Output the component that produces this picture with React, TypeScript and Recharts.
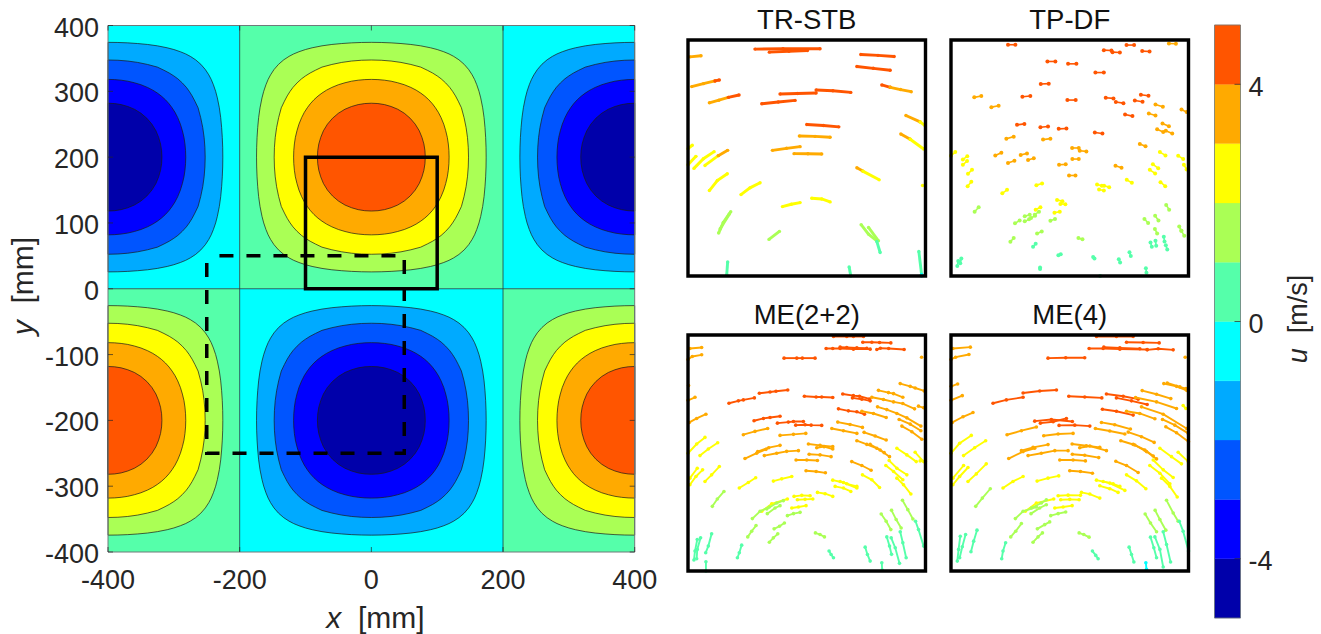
import { Scatter, ScatterChart, XAxis, YAxis } from 'recharts';

const FONT = '"Liberation Sans", Arial, sans-serif';
const TEXT = '#262626';

// jet-like bands from -5 to 5 m/s
const bandColors = ['#0000aa', '#0000ff', '#0055ff', '#00aaff', '#00ffff', '#55ffaa', '#aaff55', '#ffff00', '#ffaa00', '#ff5500'];
const bandEdges = [-5, -4, -3, -2, -1, 0, 1, 2, 3, 4, 5];
const barTicks = [-4, 0, 4];
const mainTicks = [-400, -300, -200, -100, 0, 100, 200, 300, 400];
const mainXTicks = [-400, -200, 0, 200, 400];

// contour offsets from a cell centre, one quadrant, mm
const contour1 = [[0, 174.4], [15, 174.2], [30, 173.6], [45, 172.6], [60, 171.2], [75, 169.1], [90, 166.1], [100, 163.5], [110, 160.1], [118, 156.8], [125, 153.1], [133, 147.9], [141, 141], [147.9, 133], [153.1, 125], [156.8, 118], [160.1, 110], [163.5, 100], [166.1, 90], [169.1, 75], [171.2, 60], [172.6, 45], [173.6, 30], [174.2, 15], [174.4, 0]];
const contour2 = [[0, 147.6], [15, 147.2], [30, 146], [45, 143.9], [60, 140.8], [75, 136.8], [85, 132], [93, 127.8], [100, 123.4], [106, 119], [112.8, 112.8], [119, 106], [123.4, 100], [127.8, 93], [132, 85], [136.8, 75], [140.8, 60], [143.9, 45], [146, 30], [147.2, 15], [147.6, 0]];
const contour3 = [[0, 118.1], [10, 117.8], [20, 116.9], [30, 115.4], [40, 113], [50, 110], [60, 105.9], [68, 101.8], [75, 97.3], [81, 92.8], [87.2, 87.2], [92.8, 81], [97.3, 75], [101.8, 68], [105.9, 60], [110, 50], [113, 40], [115.4, 30], [116.9, 20], [117.8, 10], [118.1, 0]];
const contour4 = [[0, 81.9], [10, 81.4], [20, 79.8], [30, 76.9], [40, 72.8], [50, 66.7], [59, 59], [66.7, 50], [72.8, 40], [76.9, 30], [79.8, 20], [81.4, 10], [81.9, 0]];
const contours = [contour1, contour2, contour3, contour4];

// cx, cy, sign, part of the cell that is inside the window
const cells: [number, number, number, string][] = [
  [0, 200, 1, 'full'],
  [0, -200, -1, 'full'],
  [-400, 200, -1, 'right'],
  [400, 200, -1, 'left'],
  [-400, -200, 1, 'right'],
  [400, -200, 1, 'left'],
];

// x0, x1, y0, y1, band
const quadrants = [
  [-400, -200, 0, 400, 4],
  [-200, 200, 0, 400, 5],
  [200, 400, 0, 400, 4],
  [-400, -200, -400, 0, 5],
  [-200, 200, -400, 0, 4],
  [200, 400, -400, 0, 5],
];
const zeroLines = [
  [[-200, -400], [-200, 400]],
  [[200, -400], [200, 400]],
  [[-400, 0], [400, 0]],
];
const solidBox = [[-100, 0], [100, 0], [100, 200], [-100, 200], [-100, 0]];
const dashedBox = [[-250, 50], [50, 50], [50, -250], [-250, -250], [-250, 50]];

const R = 9, O = 8, Y = 7, G = 6, T = 5, C = 4;

// [band, x, y, x, y, ...] in mm
const trStbTracks = [
  [R, -43.6, 192.3, -20, 192.6, 11.2, 192.6],
  [R, -31.5, 189.7, -15, 190.5, 0.6, 191.1],
  [R, 45.5, 187.7, 60, 187, 73.6, 186],
  [R, 42.2, 177.5, 56, 176, 70.3, 174.4],
  [R, -22.5, 154.2, -8, 154.7, 7.9, 155.1],
  [R, 7.9, 157.6, 22, 157, 37.1, 155.6],
  [R, -37.9, 146, -24, 147.5, -9.8, 148.8],
  [R, 0, 128.4, 14, 127.5, 27, 126.4],
  [O, -96.9, 160.5, -87, 163, -77.3, 165.3],
  [R, -77.3, 165.3, -73.6, 166.1],
  [O, -82, 146.8, -74, 149, -66, 151.4],
  [R, -66, 151.4, -57, 153.4],
  [R, 63.2, 161.9, 70.3, 159.9],
  [O, 70.3, 159.9, 79, 158, 88, 156.2],
  [O, -98.4, 185.7, -89, 186.6],
  [O, -6.2, 118.7, 7, 118.3, 19.7, 117.6],
  [O, -28.9, 106.5, -17, 108.2, -5.6, 109.6],
  [O, -10.7, 103.7, 1, 103.6, 12.6, 103.4],
  [O, 83.5, 136, 95.5, 130.6],
  [Y, 95.5, 130.6, 99.8, 127.2],
  [O, 79.2, 120.4, 87.1, 115.9],
  [Y, 87.1, 115.9, 98.4, 107.6],
  [O, 42.2, 91.7, 47.2, 88.9],
  [Y, 47.2, 88.9, 61, 81.5],
  [Y, -85.7, 93.7, -74.5, 102],
  [O, -74.5, 102, -66.6, 106.5],
  [Y, -100, 107.9, -96.4, 110.8],
  [Y, -100, 94.3, -93.3, 101.4],
  [Y, -95, 91.2, -87, 99.4, -78, 105.4],
  [Y, -82, 72.4, -75.3, 80.9, -66.9, 86.6],
  [Y, -55.4, 69, -47.8, 74.7, -39.3, 79],
  [Y, -20.5, 58.8, -13, 60.8, -5.6, 62.2],
  [Y, 4.2, 65.9, 12.6, 65.3, 19.7, 62.8],
  [Y, 97.5, 76.7],
  [G, -74.2, 36.4, -70.3, 45.4, -64, 54.5],
  [G, -73, 39.8, -65.2, 52.5],
  [G, -31.8, 31, -23, 37.8],
  [G, 45.8, 43.5, 52, 35.5, 59, 29.8],
  [G, 52, 41.2, 60.4, 29.8],
  [T, 59, 29.3, 61.8, 19.9],
  [T, -66.6, 11.9, -67.4, 0.9],
  [T, 35.7, 7.7, 37.1, 0],
  [T, 94.4, 20.7, 96.7, 1.4],
  [C, 96.7, 1.4, 96.7, 0],
];

const tpDfTracks = [
  [R, -52, 196, -45.8, 196], [R, 28.7, 191.4, 35.1, 191.1], [R, 36, 189.7, 42.2, 189.4], [R, 47.8, 195.7, 54.2, 195.7],
  [R, 61, 190.6, 67.2, 190.3], [R, -18.8, 181.8, -12.1, 181.8], [R, -1.4, 179.8, 5.6, 179.8], [R, 21.6, 172.4, 28.7, 172.4],
  [R, -24.4, 162.7, -17.7, 163], [R, -39.9, 151.9, -33.2, 152.5], [R, -2, 149.1, 5, 149.1], [R, 30.3, 151.1, 36.8, 150.5],
  [R, 38.8, 147.4, 45.2, 146.5], [R, 59.9, 153.6, 66.3, 152.8], [R, 54.8, 148.8, 61.3, 147.7], [R, 46.6, 136.9, 52.8, 135.5],
  [R, -44.4, 128.1, -38.2, 128.9], [R, -24.7, 126.1, -18.3, 126.7], [R, -9.3, 124.7, -2.8, 125], [R, 21.1, 121.6, 27.5, 120.7],
  [O, 83.5, 197, 89.4, 196.8], [O, -80.4, 151.4, -74.5, 152.5], [O, -66, 143.1, -59.9, 144.3], [O, 72.2, 145.4, 78.4, 143.4],
  [O, 94.1, 141.1, 98.4, 138.9], [O, 66.6, 137.7, 72.2, 136], [O, 78.1, 129.2, 83.5, 126.9], [O, 73.6, 124.4, 78.7, 122.1],
  [O, 80.9, 123, 86.3, 120.7], [O, -53.4, 116.4, -47.2, 118.1], [O, -22.5, 115.6, -16.3, 116.4], [O, 2, 108.5, 7.6, 108.5],
  [O, 8.4, 106.2, 14, 105.6], [O, 59, 111.9, 63.8, 109.9], [O, -62.7, 102.2, -57.6, 104.5], [O, -41.3, 102.5, -36, 103.9],
  [O, -35.1, 98.3, -30.3, 99.7], [O, -52, 95.7, -46.6, 97.7], [O, 2.2, 99.1, 7.6, 99.1], [O, -9, 94.3, -3.4, 94.6],
  [O, 38.5, 93.4, 43.6, 91.7], [O, -0.6, 85.2, 4.8, 85.2],
  [Y, -100, 102, -96.4, 105], [Y, -90, 98.8, -86.3, 101.4], [Y, -90, 94.3, -86.5, 97.4], [Y, -85.7, 86.6, -82.3, 90],
  [Y, -86, 76.1, -82.9, 79.8], [Y, -56.8, 70.1, -52.8, 73], [Y, -28.1, 77, -23.3, 78.4], [Y, 23, 77.5, 27, 76.4],
  [Y, 28.9, 76.4, 33.2, 75.3], [Y, 24.7, 73.3, 28.7, 72.4], [Y, 48, 81.5, 52.3, 79], [Y, 70, 94.6, 74.5, 91.4],
  [Y, 67.4, 90, 71.9, 86.9], [Y, 75.9, 105, 80.6, 102.2], [Y, 91.3, 102, 95.5, 99.1], [Y, 96.1, 94.3, 98.4, 90.3],
  [Y, 76.4, 79.5, 80.4, 76.1], [Y, -10.7, 64.5, -6.2, 63.3], [Y, -7.9, 61.1, -3.7, 60.8], [Y, -12.9, 53.7, -8.4, 54.5],
  [Y, -28.7, 56.2, -24.7, 58.2],
  [G, -80.1, 54.5, -76.7, 58.2], [G, -46.1, 44.6, -42.2, 47.1], [G, -37.9, 46.3, -34.3, 48], [G, -37.9, 50.6, -33.7, 52],
  [G, -32.6, 49.1, -29.2, 51.1], [G, -29.5, 52, -25.9, 54.5], [G, -16.3, 46.9, -12.4, 48.3], [G, -27.5, 36.1, -23.6, 37.8],
  [G, -50, 29, -47.2, 32.1], [G, 7.3, 32.1, 10.7, 31.2], [G, 62.9, 48.3, 66, 44.9], [G, 71.9, 51.1, 74.7, 47.1],
  [G, 71.7, 39.8, 73.6, 36.1], [G, 81.2, 60.2, 83.7, 56.2], [G, 92.2, 42, 93.9, 38.3], [G, 94.1, 38.3, 96.4, 34.1],
  [T, -30.9, 24.7, -28.7, 27.3], [T, -9.6, 17.6, -7.6, 18.5], [T, 19.7, 16.2, 20.8, 14.8], [T, 41.3, 14.2, 42.4, 11.4],
  [T, 50.3, 20.2, 51.4, 17], [T, 68, 28.4, 69.1, 24.7], [T, 72.2, 29.8, 72.8, 25.6], [T, 79.2, 33.2, 79.8, 29.3],
  [T, 80.9, 26.1, 82.1, 22.4], [T, 64.1, 6.5, 64.6, 2.8], [T, -25, 7.1, -25, 6], [T, 25.6, 0],
  [T, -94.7, 8.5, -93.9, 12.8], [T, -92.2, 10.8, -91.3, 14.8],
];

const me22Tracks = [
  [R, 22.5, 198.7, 33.7, 198.7, 39.3, 198.7, 47.8, 198.7],
  [R, 16.3, 188.6, 21.9, 188.6, 28.1, 188.6, 39.3, 188, 53.4, 188],
  [R, 28.1, 189.7, 33.7, 189.4, 42.2, 189.1, 50.6, 188.8],
  [R, 47.2, 193.9, 54.8, 193.9, 61.3, 193.6, 70.8, 193.3],
  [R, 59, 187.7, 62, 188.8, 69, 188.6, 82, 187.7],
  [R, -19.1, 180.4, -8.4, 180.4, -3.7, 180.4, 7, 180.4],
  [R, -65.5, 142.2, -57.6, 144.2, -53.4, 145, -44.1, 146.7],
  [R, -39.9, 150.6, -30.9, 151.7, -25.9, 152.3, -16, 153.4],
  [R, -2, 148.1, 7.9, 147.5, 12.6, 147.5, 21.9, 147],
  [R, 30.3, 150, 39.3, 148.6, 44.4, 148.1, 52.8, 145.8],
  [R, 38.5, 146.7, 46.4, 145.6, 53.4, 144.2],
  [R, 26.7, 137.4, 35.1, 135.7, 42.2, 134.9, 48.6, 132.9],
  [R, -44.4, 127.3, -36.5, 129.3, -30.9, 130.1, -22.5, 131.2],
  [R, -24.7, 125.3, -15.5, 126.2, -11.2, 126.7, -2.8, 126.7],
  [R, -9.3, 123.6, -1.4, 123.9, 3.7, 123.6, 12.6, 123.4],
  [O, -98.4, 188.6, -88.5, 189.4],
  [O, -100, 179.3, -96.4, 181.8, -88.5, 183.2],
  [O, 96.7, 181.2],
  [O, -99.5, 157.1],
  [O, -100, 144.7, -94.1, 147.2],
  [O, -98.9, 125.9, -92.7, 129.3, -84.9, 132.9],
  [O, 78.7, 158.8, 87.1, 156.5, 91.3, 155.1, 98.9, 152.6],
  [O, 60.4, 153.1, 68.8, 151.2, 73.1, 150.3, 80.9, 147.2],
  [O, 54.8, 147.2, 64.6, 145.3, 73.1, 143.3, 80.9, 141.9, 90.8, 137.4],
  [O, 59.6, 139.1, 67.4, 136.8, 75.9, 133.5, 84.3, 129.8, 96.1, 122.8],
  [O, 94.1, 139.7, 98.4, 138.3],
  [O, 46.4, 135.4, 56.2, 133.5, 66.9, 130.1],
  [O, 77.8, 128.4, 87.1, 124.5, 96.1, 118.9],
  [O, 80.1, 122.8, 88.5, 118, 96.9, 111.6],
  [O, 26.1, 126.2, 36.5, 124.2, 46.9, 121.7],
  [O, 21.1, 120.8, 30.9, 118.9, 42.2, 116.6],
  [O, 48.3, 117.5, 57.6, 114.4, 66.9, 111],
  [O, 42.2, 110.4, 50.6, 107.3, 59, 104, 65.2, 100.3],
  [O, 53.4, 107.3, 61.8, 102.6, 69.7, 96.9],
  [O, -53.4, 115.5, -43.6, 118.3, -32.9, 120.8],
  [O, -22.5, 114.9, -11.2, 115.8, -0.8, 116.6],
  [O, 1.4, 107.6, 11.2, 106.5, 21.9, 105.4],
  [O, 8.4, 104.5, 14.6, 105.4, 21.9, 103.4],
  [O, -41.3, 101.2, -32, 104.5, -22.5, 106.5],
  [O, -52, 95.3, -42.2, 99.8, -34.3, 103.1],
  [O, -35.7, 97.8, -25.3, 99.8, -16.9, 101.4, -7, 102],
  [O, 2, 98.9, 11.2, 98.4, 20.5, 96.9],
  [O, -9, 94.1, 0, 94.1, 9, 93.6],
  [O, -0.6, 84.9, 7.9, 84.3, 15.7, 83.2],
  [O, 37.9, 92.7, 46.4, 89.4, 54.2, 85.4],
  [Y, -100, 99.8, -92.7, 107.6, -85.7, 113.2],
  [Y, -89.9, 97.8, -82.9, 103.4, -75, 108.7],
  [Y, -98.4, 78.7, -92.2, 87.1],
  [Y, -98.4, 73.1, -93.3, 80.1, -87.7, 85.7],
  [Y, -85.7, 75.9, -80.1, 81.5, -73.6, 88.5],
  [Y, -56.8, 70.3, -49.2, 75, -43, 79],
  [Y, -28.1, 76.2, -21.1, 78.1, -12.6, 80.1],
  [Y, 21.9, 77, 30.9, 75, 42.2, 70.3],
  [Y, 28.1, 75.9, 33.7, 73.9, 42.2, 71.7],
  [Y, 23.9, 71.7, 30.9, 70.3, 37.1, 67.4],
  [Y, 46.9, 81.5, 54.8, 77.3, 61.3, 70.8],
  [Y, 69.4, 93.6, 75.9, 87.1, 84.3, 81.5],
  [Y, 66.6, 89.4, 73.1, 84.3, 80.9, 77.3],
  [Y, 75.9, 78.7, 81.5, 73.1, 87.7, 65.2],
  [Y, 75.9, 104, 84.3, 98.4, 92.2, 92.7],
  [Y, 91.3, 100.6, 98.4, 92.7],
  [Y, 95.5, 93.3, 99.8, 93],
  [Y, -10.7, 63.2, -4.2, 64.1, 2.8, 63.8],
  [Y, -7.9, 60.4, -1.4, 60.7, 5.1, 61],
  [Y, 9, 66.6, 15.5, 65.5, 21.9, 63.2],
  [Y, -12.6, 53.4, -7, 54.2, -0.6, 55.4],
  [Y, -37.9, 50.6, -29.5, 57, -16.3, 61],
  [G, -33.7, 52.5, -25.3, 57.6, -19.7, 59.6],
  [G, -79.5, 54.8, -75.3, 61, -69.7, 67.4],
  [G, -45.8, 44.4, -39.3, 50.6, -31.5, 54.2],
  [G, -33.2, 48.6, -26.7, 53.4, -22.5, 55.4],
  [G, -16.3, 46.9, -11.2, 48.6, -5.6, 49.7],
  [G, -27.5, 35.7, -23, 37.9, -18.8, 40.7],
  [G, -49.7, 28.9, -46.4, 33.7, -42.7, 38.5],
  [G, -31.5, 24.4, -28.1, 28.1, -24.4, 31.5],
  [G, 7.3, 32.3, 11.2, 30.9, 14.9, 28.9],
  [G, 62.7, 48.3, 66.9, 42.2, 70.8, 35.1],
  [G, 71.4, 51.4, 75.3, 43.6, 79.5, 36.5],
  [G, 80.6, 59.9, 85.1, 52, 89.4, 44.1],
  [T, 91.6, 42.2, 94.1, 35.1, 98.4, 21.1],
  [T, 78.7, 33.2, 80.9, 23.9, 83.7, 11.2],
  [T, 71.1, 28.1, 74.5, 19.7, 78.1, 6.5],
  [T, 67.4, 28.9, 69.7, 21.1, 71.4, 14.1],
  [T, -80.1, 31.5, -82.9, 21.1, -85.1, 15.5],
  [T, -89.4, 28.1, -92.2, 18.3, -92.7, 10.4],
  [T, -92.2, 26.7, -94.1, 16.9, -95, 9.3],
  [T, -54.8, 21.9, -56.8, 15.5, -58.4, 11.2],
  [T, -84.9, 7.9, -84.9, 0],
  [T, 18.8, 16.9, 20.5, 14, 22.5, 11.2],
  [T, 49.2, 20.2, 51.1, 14, 53.4, 8.4],
  [T, 63.2, 7, 63.5, 0.8],
];

const me4Tracks = [
  [R, 22.5, 198.7, 39.3, 198.7, 53.4, 198.7],
  [R, 16.3, 188.6, 28.1, 188.6, 42.2, 188, 65.2, 187.7],
  [R, 28.7, 189.7, 42.2, 189.1, 59, 188.3],
  [R, 47.8, 193.9, 61.8, 193.6, 75.3, 193.3],
  [R, 65.2, 187.4, 74.5, 188.3, 87.1, 187.4],
  [R, -18.3, 180.4, -3.4, 180.7, 12.6, 180.7],
  [R, -64.6, 142.2, -53.4, 145, -39.3, 147.2],
  [R, -39.3, 150.9, -25.3, 152.6, -11.2, 153.4],
  [R, -0.8, 148.1, 12.6, 147.5, 27, 146.7],
  [R, 30.9, 150, 45, 148.1, 57.6, 145.6],
  [R, 39.3, 146.7, 52, 144.2, 65.2, 141.1],
  [R, 27.5, 137.1, 39.3, 135.4, 53.4, 132.1],
  [R, -29.5, 127, -15.5, 128.4, 2.2, 126.7],
  [R, -24.7, 125.3, -14, 126.5, -2.8, 129.3],
  [R, -9, 123.4, 4.2, 123.6, 16.9, 122.8],
  [O, -98.4, 188.6, -83.7, 189.7],
  [O, -100, 179.3, -96.1, 181.2, -84.9, 183.5],
  [O, 97.2, 181.2],
  [O, -99.8, 156.5, -94.4, 158.5],
  [O, -100, 144.7, -90.5, 148.6],
  [O, -98.9, 125.9, -89.9, 130.7, -81.5, 134.3],
  [O, 79.2, 158.8, 89.9, 156.5, 98.4, 153.1],
  [O, 82.1, 159.3, 92.7, 156, 97.8, 154.6],
  [O, 61, 152.9, 73.1, 149.8, 85.1, 146.1],
  [O, 55.4, 147, 73.1, 143.3, 89.9, 137.7],
  [O, 60.4, 139.1, 78.7, 132.9, 98.4, 120.8],
  [O, 47.8, 135.4, 59, 133.5, 71.7, 129],
  [O, 78.1, 128.4, 88.5, 123.6, 99.8, 116.6],
  [O, 80.9, 122.2, 89.9, 117.2, 100, 109.6],
  [O, 26.7, 125.9, 37.9, 123.9, 51.1, 120.3],
  [O, 21.6, 120.8, 33.7, 118.6, 46.4, 116.1],
  [O, 49.2, 117.7, 60.4, 113.8, 71.1, 109],
  [O, 43, 110.4, 54.8, 106.8, 64.6, 101.2, 73.1, 95],
  [O, 53.4, 107.3, 63.2, 102.6, 70.3, 97.5],
  [O, -52.8, 115.5, -40.7, 118.9, -28.1, 122],
  [O, -21.9, 114.6, -9.8, 116.1, 2.8, 116.6],
  [O, 2, 107.6, 14, 106.2, 25.3, 104.8],
  [O, 8.4, 104.5, 16.9, 105.9, 30.9, 102],
  [O, -40.7, 102, -30.9, 104.8, -18.3, 107.1],
  [O, -51.4, 95.3, -39.3, 101.2, -29.5, 104],
  [O, -35.1, 97.8, -23.9, 99.8, -12.6, 102, -1.4, 102],
  [O, 2.2, 98.9, 12.6, 98.1, 24.4, 96.1],
  [O, -8.4, 94.1, 2.8, 94.1, 13.2, 93.3],
  [O, 0, 84.9, 9, 84.3, 19.1, 82.9],
  [O, 38.8, 93, 47.8, 89.4, 57.6, 83.5],
  [Y, -100, 99.8, -92.7, 108.2, -82.9, 114.9],
  [Y, -89.4, 97.8, -80.1, 104.5, -70.8, 110.4],
  [Y, -98.4, 78.7, -89.4, 89.4],
  [Y, -98.4, 73.1, -92.7, 80.1, -85.7, 87.7],
  [Y, -85.7, 75.9, -78.7, 82.3, -70.3, 90.8],
  [Y, -56.2, 70.3, -47.8, 75.9, -39.3, 80.1],
  [Y, -27.5, 76.2, -18.3, 78.7, -9.3, 80.6],
  [Y, 22.5, 77, 33.7, 74.5, 46.4, 68.3],
  [Y, 25.3, 72.2, 33.7, 69.7, 40.7, 66.6],
  [Y, 28.1, 75.9, 36.5, 73.9, 42.2, 71.7],
  [Y, 47.8, 81.5, 56.2, 76.4, 64.1, 69.7],
  [Y, 70.3, 94.1, 78.7, 85.7, 87.1, 79.2],
  [Y, 67.4, 89.4, 75.9, 82.9, 84.3, 73.9],
  [Y, 77.3, 78.7, 84.3, 71.7, 90.5, 62.7],
  [Y, 75.9, 104, 85.7, 96.9, 94.1, 90.8],
  [Y, 91.3, 100.6, 99.8, 92.7],
  [Y, 95.5, 140.2, 97.8, 137.7],
  [Y, -9.8, 63.8, -1.4, 64.3, 9, 64.1],
  [Y, -7.6, 60.4, 0, 60.7, 7.9, 60.4],
  [Y, 9.8, 66.6, 16.9, 65.2, 25.3, 61.8],
  [Y, -12.6, 53.4, -5.6, 54.2, 2, 55.4],
  [Y, -37.4, 50.6, -28.1, 57.6, -13.5, 61],
  [G, -32.3, 53.4, -23.9, 57.6, -19.7, 60.4],
  [G, -79.2, 54.8, -73.6, 61.8, -66.9, 69.7],
  [G, -45.8, 44.4, -39.3, 50.6, -28.1, 54.2],
  [G, -32.6, 48.6, -25.3, 53.4, -19.7, 56.2],
  [G, -16, 46.9, -9.8, 48.6, -3.4, 50],
  [G, -27.3, 35.7, -21.1, 39.3, -16.9, 41.6],
  [G, -49.7, 28.9, -45.5, 33.7, -40.7, 40.2],
  [G, -30.9, 24.4, -26.7, 28.9, -23, 32.3],
  [G, 7.9, 32.3, 11.8, 30.9, 16.3, 28.7],
  [G, 63.5, 48.3, 68, 40.7, 73.1, 33.2],
  [G, 71.9, 51.4, 75.9, 43.6, 80.9, 34.6],
  [G, 81.5, 59.9, 87.1, 49.2, 91.3, 42.2],
  [T, 92.2, 42.2, 95.5, 33.7, 100, 16.9],
  [T, 78.7, 33.2, 81.5, 22.5, 84.9, 7.6],
  [T, 71.7, 28.9, 75.9, 18.3, 78.7, 3.4],
  [T, 68, 28.7, 70.8, 19.7, 73.1, 11.2],
  [T, -78.1, 34.6, -80.9, 25.3, -83.2, 16.3],
  [T, -87.7, 30.9, -90.5, 20.5, -92.7, 11.2],
  [T, -92.2, 29.5, -93.6, 18.3, -94.7, 8.4],
  [T, -54, 23.9, -56.2, 16.9, -57.3, 10.4],
  [T, 19.1, 16.9, 21.9, 13.2, 23.9, 10.4],
  [T, 50, 20.2, 52, 14, 54, 7.6],
  [C, 64.1, 7, 64.6, 1.4],
];

const panelBox = [[-100, 0], [100, 0], [100, 200], [-100, 200], [-100, 0]];

const toPoints = (list: number[][]) => list.map(([x, y]) => ({ x, y }));

const rectPoints = ([x0, x1, y0, y1]: number[]) => [
  { x: x0, y: y0 }, { x: x1, y: y0 }, { x: x1, y: y1 }, { x: x0, y: y1 },
];

const cellOutline = (quarter: number[][], cx: number, cy: number, part: string) => {
  const rightHalf = [...quarter, ...[...quarter].reverse().slice(1).map(([a, b]) => [a, -b])];
  const leftHalf = [...rightHalf].reverse().map(([a, b]) => [-a, b]);
  const offsets = part === 'full' ? [...rightHalf, ...leftHalf.slice(1)] : part === 'right' ? rightHalf : leftHalf;
  return offsets.map(([a, b]) => ({ x: cx + a, y: cy + b }));
};

const trackPoints = (track: number[]) => {
  const pts = [];
  for (let i = 1; i < track.length; i += 2) pts.push({ x: track[i], y: track[i + 1] });
  return pts;
};

const NoDot = () => <g />;

const MainTickY = ({ x, y, payload }: any) => (
  <g>
    <line x1={108} x2={113} y1={y} y2={y} stroke={TEXT} strokeWidth={0.7} />
    <line x1={629.7} x2={634.7} y1={y} y2={y} stroke={TEXT} strokeWidth={0.7} />
    <text x={x - 9} y={y + 11} textAnchor="end" fontSize={27} fontFamily={FONT} fill={TEXT}>{payload.value}</text>
  </g>
);

const MainTickX = ({ x, y, payload }: any) => (
  <g>
    <line x1={x} x2={x} y1={552} y2={547} stroke={TEXT} strokeWidth={0.7} />
    <line x1={x} x2={x} y1={25.5} y2={30.5} stroke={TEXT} strokeWidth={0.7} />
    <text x={x} y={y + 37} textAnchor="middle" fontSize={27} fontFamily={FONT} fill={TEXT}>{payload.value}</text>
  </g>
);

const BarTick = ({ x, y, payload }: any) => (
  <g>
    <line x1={x - 6} x2={x} y1={y} y2={y} stroke={TEXT} strokeWidth={0.7} />
    <text x={x + 8} y={y + 11.5} fontSize={27} fontFamily={FONT} fill={TEXT}>{payload.value}</text>
  </g>
);

const AxisName = ({ symbol, unit, size = 30, style }: any) => (
  <div style={{
    position: 'absolute', width: 200, height: 32, lineHeight: '32px', textAlign: 'center',
    fontFamily: FONT, fontSize: size, color: TEXT, whiteSpace: 'pre', ...style,
  }}>
    <i>{symbol}</i>{`  ${unit}`}
  </div>
);

const MainPlot = () => (
  <div style={{ position: 'absolute', left: 0, top: 0 }}>
    <ScatterChart width={680} height={634} margin={{ top: 25.5, right: 45.3, bottom: 42, left: 68 }}>
      <XAxis type="number" dataKey="x" domain={[-400, 400]} ticks={mainXTicks} interval={0} height={40} zIndex={700}
        tickSize={0} tickMargin={0} axisLine={false} tickLine={false} tick={<MainTickX />} />
      <YAxis type="number" dataKey="y" domain={[-400, 400]} ticks={mainTicks} interval={0} width={40} zIndex={700}
        tickSize={0} tickMargin={0} axisLine={false} tickLine={false} tick={<MainTickY />} />
      {quadrants.map((q, i) => (
        <Scatter key={`q${i}`} data={rectPoints(q)} isAnimationActive={false} shape={NoDot} lineJointType="linearClosed"
          line={{ fill: bandColors[q[4]], stroke: 'none' }} />
      ))}
      {zeroLines.map((l, i) => (
        <Scatter key={`z${i}`} data={toPoints(l)} isAnimationActive={false} shape={NoDot}
          line={{ stroke: '#1c3f3f', strokeWidth: 0.8 }} />
      ))}
      {cells.map(([cx, cy, sign, part]) =>
        contours.map((quarter, i) => (
          <Scatter key={`c${cx}_${cy}_${i}`} data={cellOutline(quarter, cx, cy, part)} isAnimationActive={false} shape={NoDot}
            lineJointType="linearClosed"
            line={{ fill: bandColors[sign > 0 ? 6 + i : 3 - i], stroke: '#1a1a1a', strokeWidth: 0.7 }} />
        ))
      )}
      <Scatter data={toPoints(solidBox)} isAnimationActive={false} shape={NoDot}
        line={{ stroke: '#000', strokeWidth: 3.5, fill: 'none', strokeLinecap: 'square' }} />
      <Scatter data={toPoints(dashedBox)} isAnimationActive={false} shape={NoDot}
        line={{ stroke: '#000', strokeWidth: 3.5, fill: 'none', strokeDasharray: '14 13', strokeDashoffset: 14.3 }} />
      <Scatter data={rectPoints([-400, 400, -400, 400])} isAnimationActive={false} shape={NoDot} lineJointType="linearClosed"
        line={{ stroke: '#6e7a7a', strokeWidth: 1, fill: 'none' }} />
    </ScatterChart>
  </div>
);

const TrackPanel = ({ title, tracks, left, top, lineWidth, dotR }: any) => {
  const pad = 8;
  const boxW = 237.5;
  const boxH = 236;
  return (
    <div style={{ position: 'absolute', left: left - pad, top: top - pad }}>
      <ScatterChart width={boxW + pad * 2} height={boxH + pad * 2} margin={{ top: pad, right: pad, bottom: pad, left: pad }}>
        <XAxis hide type="number" dataKey="x" domain={[-100, 100]} />
        <YAxis hide type="number" dataKey="y" domain={[0, 200]} />
        {tracks.map((track: number[], i: number) => {
          const color = bandColors[track[0]];
          return (
            <Scatter key={i} data={trackPoints(track)} isAnimationActive={false}
              shape={(p: any) => <circle cx={p.cx} cy={p.cy} r={dotR} fill={color} />}
              line={{ stroke: color, strokeWidth: lineWidth, fill: 'none' }} />
          );
        })}
        <Scatter data={toPoints(panelBox)} isAnimationActive={false} shape={NoDot}
          line={{ stroke: '#000', strokeWidth: 3.4, fill: 'none', strokeLinecap: 'square' }} />
      </ScatterChart>
      <div style={{
        position: 'absolute', left: pad, width: boxW, top: pad - 36, height: 32, lineHeight: '32px',
        textAlign: 'center', fontFamily: FONT, fontSize: 27.5, color: '#111',
      }}>{title}</div>
    </div>
  );
};

const ColorBar = () => (
  <div style={{ position: 'absolute', left: 1205, top: 0 }}>
    <ScatterChart width={100} height={634} margin={{ top: 25, right: 0, bottom: 16, left: 9.5 }}>
      <XAxis hide type="number" dataKey="x" domain={[0, 1]} />
      <YAxis orientation="right" type="number" dataKey="y" domain={[-5, 5]} ticks={barTicks} interval={0} width={64.5} zIndex={700}
        tickSize={0} tickMargin={0} axisLine={false} tickLine={false} tick={<BarTick />} />
      {bandColors.map((color, i) => (
        <Scatter key={i} data={rectPoints([0, 1, bandEdges[i], bandEdges[i + 1]])} isAnimationActive={false} shape={NoDot}
          lineJointType="linearClosed" line={{ fill: color, stroke: color, strokeWidth: 0.3 }} />
      ))}
      <Scatter data={rectPoints([0, 1, -5, 5])} isAnimationActive={false} shape={NoDot} lineJointType="linearClosed"
        line={{ stroke: '#6e7a7a', strokeWidth: 0.8, fill: 'none' }} />
    </ScatterChart>
  </div>
);

export default function App() {
  return (
    <div style={{ position: 'absolute', left: 0, top: 0, width: 1321, height: 634, background: '#fff', overflow: 'hidden' }}>
      <MainPlot />
      <AxisName symbol="y" unit="[mm]" style={{ left: 23 - 100, top: 286 - 16, transform: 'rotate(-90deg)' }} />
      <AxisName symbol="x" unit="[mm]" style={{ left: 375.5 - 100, top: 602 }} />
      <TrackPanel title="TR-STB" tracks={trStbTracks} left={688} top={39.5} lineWidth={2.9} dotR={1.7} />
      <TrackPanel title="TP-DF" tracks={tpDfTracks} left={951} top={39.5} lineWidth={1.6} dotR={2} />
      <TrackPanel title="ME(2+2)" tracks={me22Tracks} left={688} top={335} lineWidth={1.9} dotR={1.8} />
      <TrackPanel title="ME(4)" tracks={me4Tracks} left={951} top={335} lineWidth={1.9} dotR={1.8} />
      <ColorBar />
      <AxisName symbol="u" unit="[m/s]" size={27} style={{ left: 1298 - 100, top: 319 - 16, transform: 'rotate(-90deg)' }} />
    </div>
  );
}
